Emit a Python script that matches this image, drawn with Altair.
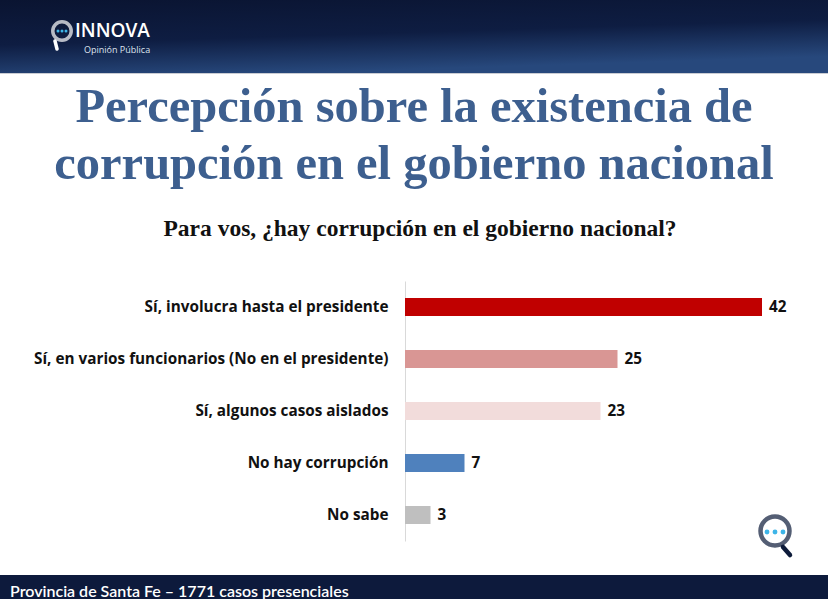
import altair as alt
import pandas as pd

# Survey answers and their percentages
categories = [
    "Sí, involucra hasta el presidente",
    "Sí, en varios funcionarios (No en el presidente)",
    "Sí, algunos casos aislados",
    "No hay corrupción",
    "No sabe",
]
values = [42, 25, 23, 7, 3]

bar_colors = ["#C00000", "#D99694", "#F2DCDB", "#4F81BD", "#BFBFBF"]

title_lines = ["Percepción sobre la existencia de", "corrupción en el gobierno nacional"]
subtitle = "Para vos, ¿hay corrupción en el gobierno nacional?"
footer = "Provincia de Santa Fe – 1771 casos presenciales"
brand = "INNOVA"
brand_sub = "Opinión Pública"

# Page geometry: the plot area starts at (OX, OY) on the 828x599 page
W, H = 828, 599
OX, OY = 405, 281
PW, PH = 357, 260


def px(x):
    return x - OX


def py(y):
    return y - OY


df = pd.DataFrame({"cat": categories, "val": values})
one = alt.Data(values=[{"k": 0}])

LABEL_FONT = "Open Sans"
LABEL_SIZE = 15.3

y_enc = alt.Y(
    "cat:N",
    sort=categories,
    scale=alt.Scale(paddingInner=0.654, paddingOuter=0.327),
    axis=alt.Axis(
        title=None,
        ticks=False,
        domainColor="#D9D9D9",
        domainWidth=1,
        labelFont=LABEL_FONT,
        labelFontWeight="bold",
        labelFontSize=LABEL_SIZE,
        labelColor="#111111",
        labelPadding=17,
        labelLimit=0,
        grid=False,
    ),
)
x_enc = alt.X("val:Q", scale=alt.Scale(domain=[0, 42], nice=False), axis=None)

bars = alt.Chart(df).mark_bar().encode(
    x=x_enc,
    y=y_enc,
    color=alt.Color("cat:N", scale=alt.Scale(domain=categories, range=bar_colors), legend=None),
)

value_labels = alt.Chart(df).mark_text(
    align="left", baseline="middle", dx=7, font=LABEL_FONT, fontWeight="bold", fontSize=LABEL_SIZE, color="#111111"
).encode(x=x_enc, y=alt.Y("cat:N", sort=categories), text="val:Q")

# Header band
header = alt.Chart(one).mark_rect(
    color=alt.Gradient(
        gradient="linear",
        x1=0, y1=0, x2=0.35, y2=1,
        stops=[
            alt.GradientStop(offset=0, color="#0A1431"),
            alt.GradientStop(offset=0.55, color="#0E1D42"),
            alt.GradientStop(offset=1, color="#27487C"),
        ],
    )
).encode(x=alt.value(px(0)), x2=alt.value(px(W)), y=alt.value(py(0)), y2=alt.value(py(73)))

header_edge = alt.Chart(one).mark_rule(color="#C9CCD3", strokeWidth=1).encode(
    x=alt.value(px(0)), x2=alt.value(px(W)), y=alt.value(py(73.5))
)

# Footer band
footer_band = alt.Chart(one).mark_rect(color="#0D1A3C").encode(
    x=alt.value(px(0)), x2=alt.value(px(W)), y=alt.value(py(575)), y2=alt.value(py(H))
)
footer_text = alt.Chart(one).mark_text(
    align="left", baseline="alphabetic", font="Lato", fontWeight=600, fontSize=16, color="white"
).encode(x=alt.value(px(10)), y=alt.value(py(597)), text=alt.value(footer))

# Brand mark in the header
logo_ring = alt.Chart(one).mark_point(shape="circle", filled=False, stroke="white", strokeWidth=3.5, size=340).encode(
    x=alt.value(px(62)), y=alt.value(py(31))
)
logo_tail = alt.Chart(one).mark_rule(color="white", strokeWidth=3.5, strokeCap="round").encode(
    x=alt.value(px(55)), x2=alt.value(px(57)), y=alt.value(py(41)), y2=alt.value(py(49))
)
logo_dots = alt.layer(*[
    alt.Chart(one).mark_point(shape="circle", filled=True, color="#3DB5E8", size=9, opacity=1).encode(
        x=alt.value(px(cx)), y=alt.value(py(31))
    )
    for cx in (58, 62, 66)
])
brand_text = alt.Chart(one).mark_text(
    align="left", baseline="alphabetic", font="Open Sans", fontWeight=600, fontSize=19, color="white"
).encode(x=alt.value(px(75)), y=alt.value(py(37)), text=alt.value(brand))
brand_sub_text = alt.Chart(one).mark_text(
    align="left", baseline="alphabetic", font="Open Sans", fontSize=9, color="#DDE3EE"
).encode(x=alt.value(px(84)), y=alt.value(py(53)), text=alt.value(brand_sub))

# Titles
title_marks = alt.layer(*[
    alt.Chart(one).mark_text(
        align="center", baseline="alphabetic", font="Liberation Serif", fontWeight="bold", fontSize=48.5,
        color="#3D5F8F",
    ).encode(x=alt.value(px(414)), y=alt.value(py(yb)), text=alt.value(t))
    for t, yb in zip(title_lines, (122, 179))
])
subtitle_mark = alt.Chart(one).mark_text(
    align="center", baseline="alphabetic", font="Liberation Serif", fontWeight="bold", fontSize=23.5, color="#111111"
).encode(x=alt.value(px(420)), y=alt.value(py(236)), text=alt.value(subtitle))

# Corner icon
icon_ring = alt.Chart(one).mark_point(shape="circle", filled=False, stroke="#0D1B3A", strokeWidth=4.5, size=840).encode(
    x=alt.value(px(775)), y=alt.value(py(531))
)
icon_tail = alt.Chart(one).mark_rule(color="#0D1B3A", strokeWidth=4.5, strokeCap="round").encode(
    x=alt.value(px(783)), x2=alt.value(px(790)), y=alt.value(py(547)), y2=alt.value(py(555))
)
icon_dots = alt.layer(*[
    alt.Chart(one).mark_point(shape="circle", filled=True, color="#3DB5E8", size=24, opacity=1).encode(
        x=alt.value(px(cx)), y=alt.value(py(532))
    )
    for cx in (767, 775, 783)
])

chart = alt.layer(
    header, header_edge, footer_band, footer_text,
    logo_ring, logo_tail, logo_dots, brand_text, brand_sub_text,
    title_marks, subtitle_mark,
    bars, value_labels,
    icon_ring, icon_tail, icon_dots,
).properties(
    width=PW,
    height=PH,
    autosize=alt.AutoSizeParams(type="none"),
    padding={"left": OX, "top": OY, "right": W - OX - PW, "bottom": H - OY - PH},
    background="white",
).configure_view(stroke=None)

chart.save("out.html", embed_options={"renderer": "svg", "actions": False})
